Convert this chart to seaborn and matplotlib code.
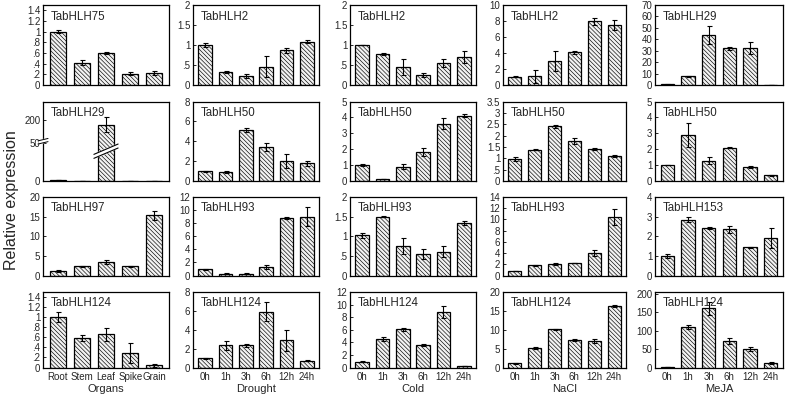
import numpy as np
import pandas as pd
import matplotlib
matplotlib.use("Agg")
import matplotlib.pyplot as plt
from matplotlib.ticker import FuncFormatter
import seaborn as sns

sns.set_style("white")
plt.rcParams["font.family"] = ["Liberation Sans", "DejaVu Sans"]
plt.rcParams["hatch.linewidth"] = 0.45

organs = ["Root", "Stem", "Leaf", "Spike", "Grain"]
hours = ["0h", "1h", "3h", "6h", "12h", "24h"]
treatments = ["Organs", "Drought", "Cold", "NaCl", "MeJA"]

# row 1
hlh75_organs = [1.0, 0.42, 0.6, 0.21, 0.23]
hlh75_organs_err = [0.03, 0.04, 0.02, 0.03, 0.04]
hlh2_drought = [1.0, 0.33, 0.22, 0.46, 0.87, 1.08]
hlh2_drought_err = [0.05, 0.03, 0.05, 0.27, 0.06, 0.04]
hlh2_cold = [1.0, 0.77, 0.45, 0.25, 0.55, 0.7]
hlh2_cold_err = [0.01, 0.02, 0.2, 0.05, 0.09, 0.15]
hlh2_nacl = [1.05, 1.1, 3.0, 4.1, 7.95, 7.5]
hlh2_nacl_err = [0.05, 0.8, 1.3, 0.2, 0.4, 0.6]
hlh29_meja = [0.5, 7.5, 44, 32, 32.5, 0.3]
hlh29_meja_err = [0.1, 0.5, 8, 1.5, 5, 0.1]

# row 2
hlh29_organs = [0.9, 0.5, 170, 0.0, 0.5]
hlh29_organs_err = [0.1, 0.1, 50, 0.0, 0.1]
hlh50_drought = [1.0, 0.92, 5.15, 3.45, 2.05, 1.8]
hlh50_drought_err = [0.05, 0.1, 0.2, 0.4, 0.7, 0.25]
hlh50_cold = [1.0, 0.13, 0.9, 1.8, 3.6, 4.1]
hlh50_cold_err = [0.05, 0.02, 0.17, 0.25, 0.35, 0.1]
hlh50_nacl = [0.96, 1.37, 2.4, 1.77, 1.4, 1.1]
hlh50_nacl_err = [0.1, 0.02, 0.05, 0.12, 0.05, 0.05]
hlh50_meja = [1.0, 2.9, 1.28, 2.1, 0.88, 0.35]
hlh50_meja_err = [0.02, 0.75, 0.2, 0.05, 0.08, 0.03]

# row 3
hlh97_organs = [1.2, 2.3, 3.5, 2.3, 15.3]
hlh97_organs_err = [0.3, 0.2, 0.5, 0.05, 1.2]
hlh93_drought = [0.95, 0.3, 0.3, 1.3, 8.8, 9.0]
hlh93_drought_err = [0.1, 0.05, 0.05, 0.25, 0.1, 1.4]
hlh93_cold = [1.02, 1.5, 0.76, 0.55, 0.6, 1.33]
hlh93_cold_err = [0.06, 0.02, 0.2, 0.13, 0.14, 0.05]
hlh93_nacl = [0.8, 1.8, 2.0, 2.25, 4.0, 10.4]
hlh93_nacl_err = [0.05, 0.05, 0.2, 0.05, 0.6, 1.4]
hlh153_meja = [1.0, 2.85, 2.4, 2.35, 1.43, 1.9]
hlh153_meja_err = [0.1, 0.12, 0.05, 0.17, 0.03, 0.5]

# row 4
hlh124_organs = [1.0, 0.59, 0.66, 0.29, 0.04]
hlh124_organs_err = [0.1, 0.06, 0.13, 0.2, 0.03]
hlh124_drought = [1.0, 2.35, 2.35, 5.9, 2.9, 0.7]
hlh124_drought_err = [0.05, 0.45, 0.15, 1.0, 1.1, 0.05]
hlh124_cold = [0.95, 4.5, 6.05, 3.6, 8.8, 0.25]
hlh124_cold_err = [0.05, 0.3, 0.2, 0.15, 1.0, 0.05]
hlh124_nacl = [1.1, 5.1, 10.1, 7.2, 7.0, 16.3]
hlh124_nacl_err = [0.05, 0.2, 0.1, 0.3, 0.5, 0.3]
hlh124_meja = [1.0, 110, 161, 72, 50, 13]
hlh124_meja_err = [0.2, 5, 18, 7, 6, 3]

# (gene, values, errors, ymax, yticks)
panels = [
    [("TabHLH75", hlh75_organs, hlh75_organs_err, 1.5, np.arange(0, 1.41, 0.2)),
     ("TabHLH2", hlh2_drought, hlh2_drought_err, 2, np.arange(0, 2.01, 0.5)),
     ("TabHLH2", hlh2_cold, hlh2_cold_err, 2, np.arange(0, 2.01, 0.5)),
     ("TabHLH2", hlh2_nacl, hlh2_nacl_err, 10, np.arange(0, 11, 2)),
     ("TabHLH29", hlh29_meja, hlh29_meja_err, 70, np.arange(0, 71, 10))],
    [("TabHLH29", hlh29_organs, hlh29_organs_err, 325, [0, 50, 200]),
     ("TabHLH50", hlh50_drought, hlh50_drought_err, 8, np.arange(0, 9, 2)),
     ("TabHLH50", hlh50_cold, hlh50_cold_err, 5, np.arange(0, 6, 1)),
     ("TabHLH50", hlh50_nacl, hlh50_nacl_err, 3.5, np.arange(0, 3.51, 0.5)),
     ("TabHLH50", hlh50_meja, hlh50_meja_err, 5, np.arange(0, 6, 1))],
    [("TabHLH97", hlh97_organs, hlh97_organs_err, 20, np.arange(0, 21, 5)),
     ("TabHLH93", hlh93_drought, hlh93_drought_err, 12, np.arange(0, 13, 2)),
     ("TabHLH93", hlh93_cold, hlh93_cold_err, 2, np.arange(0, 2.01, 0.5)),
     ("TabHLH93", hlh93_nacl, hlh93_nacl_err, 14, np.arange(0, 15, 2)),
     ("TabHLH153", hlh153_meja, hlh153_meja_err, 4, np.arange(0, 5, 1))],
    [("TabHLH124", hlh124_organs, hlh124_organs_err, 1.5, np.arange(0, 1.41, 0.2)),
     ("TabHLH124", hlh124_drought, hlh124_drought_err, 8, np.arange(0, 9, 2)),
     ("TabHLH124", hlh124_cold, hlh124_cold_err, 12, np.arange(0, 13, 2)),
     ("TabHLH124", hlh124_nacl, hlh124_nacl_err, 20, np.arange(0, 21, 5)),
     ("TabHLH124", hlh124_meja, hlh124_meja_err, 205, np.arange(0, 201, 50))],
]

W, H = 787, 401
col_px = [(43, 169), (193, 319), (350, 476), (503, 626), (655, 783)]
row_px = [(5, 85), (101.5, 181), (197, 275.5), (292, 367.5)]


def fmt(v, pos):
    if abs(v - round(v)) < 1e-9:
        return str(int(round(v)))
    s = ("%g" % v)
    return s[1:] if s.startswith("0.") else s


# broken axis for TabHLH29 organs: compress everything above 50
def brk_fwd(y):
    y = np.asarray(y, dtype=float)
    return np.where(y <= 50, y, 50 + (y - 50) * 0.194)


def brk_inv(y):
    y = np.asarray(y, dtype=float)
    return np.where(y <= 50, y, 50 + (y - 50) / 0.194)


fig = plt.figure(figsize=(W / 100, H / 100), dpi=100)

for r, row in enumerate(panels):
    for c, (gene, vals, errs, ymax, yticks) in enumerate(row):
        x0, x1 = col_px[c]
        y0, y1 = row_px[r]
        ax = fig.add_axes([x0 / W, 1 - y1 / H, (x1 - x0) / W, (y1 - y0) / H])
        cats = organs if c == 0 else hours
        df = pd.DataFrame({"cat": cats, "val": vals, "err": errs})
        if r == 1 and c == 0:
            ax.set_yscale("function", functions=(brk_fwd, brk_inv))
        sns.barplot(data=df, x="cat", y="val", color="white", edgecolor="black",
                    linewidth=0.9, width=0.66, errorbar=None, ax=ax)
        for p in ax.patches:
            p.set_hatch("\\" * 8)
            p.set_facecolor("#f2f2f2")
        ax.errorbar(np.arange(len(cats)), df["val"], yerr=df["err"], fmt="none",
                    ecolor="black", elinewidth=0.8, capsize=1.8, capthick=0.8)
        ax.set_xlim(-0.6, len(cats) - 0.4)
        ax.set_ylim(0, ymax)
        ax.set_yticks(yticks)
        ax.yaxis.set_major_formatter(FuncFormatter(fmt))
        ax.tick_params(axis="y", direction="in", length=2.5, width=0.7, pad=2,
                       labelsize=7, left=True)
        ax.tick_params(axis="x", length=0, pad=3, labelsize=7)
        ax.set_xlabel("")
        ax.set_ylabel("")
        if r < 3:
            ax.set_xticklabels([])
        else:
            ax.set_xlabel(treatments[c], fontsize=8, labelpad=2)
        for s in ax.spines.values():
            s.set_visible(True)
            s.set_color("black")
            s.set_linewidth(0.9)
        ax.text(0.06, 0.93, gene, transform=ax.transAxes, ha="left", va="top",
                fontsize=8.3)
        if r == 1 and c == 0:
            # break marks: on the leaf bar and on the left spine
            bt = matplotlib.transforms.blended_transform_factory(ax.transData, ax.transAxes)
            ax.fill([1.62, 2.38, 2.38, 1.62], [0.30, 0.40, 0.45, 0.35], color="white",
                    transform=bt, zorder=5)
            ax.plot([1.5, 2.5], [0.285, 0.415], color="black", lw=0.8, transform=bt, zorder=6)
            ax.plot([1.5, 2.5], [0.335, 0.465], color="black", lw=0.8, transform=bt, zorder=6)
            ax.fill([-0.03, 0.03, 0.03, -0.03], [0.47, 0.49, 0.53, 0.51], color="white",
                    transform=ax.transAxes, clip_on=False, zorder=5)
            ax.plot([-0.04, 0.04], [0.465, 0.495], color="black", lw=0.7,
                    transform=ax.transAxes, clip_on=False, zorder=6)
            ax.plot([-0.04, 0.04], [0.505, 0.535], color="black", lw=0.7,
                    transform=ax.transAxes, clip_on=False, zorder=6)

fig.text(0.014, 0.5, "Relative expression", rotation=90, ha="center", va="center",
         fontsize=11.5)

fig.savefig("out.png", dpi=100)
